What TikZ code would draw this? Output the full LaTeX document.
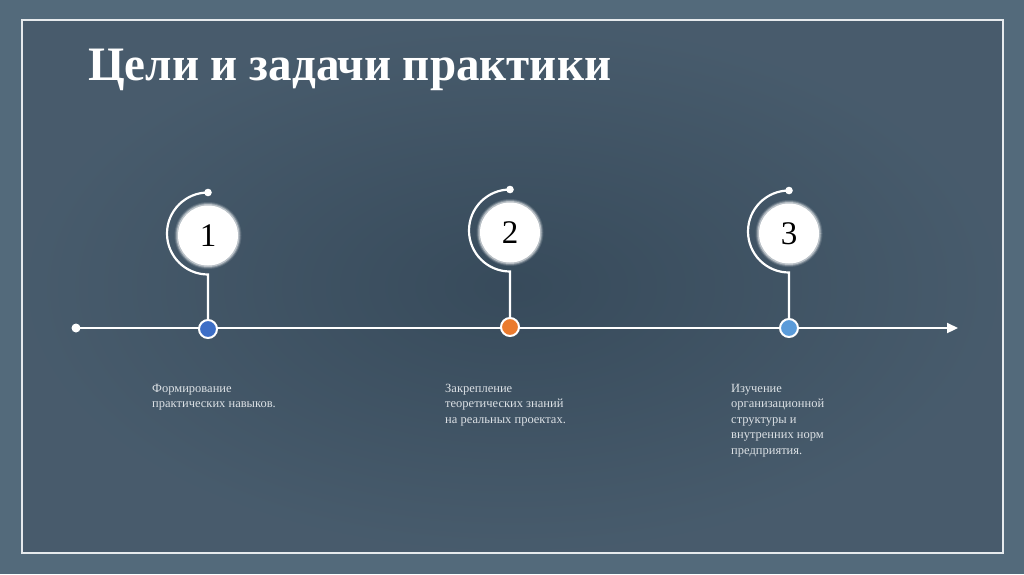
\documentclass[tikz,border=0pt]{standalone}
\usepackage{fontspec}
\setmainfont{Liberation Serif}
\usetikzlibrary{arrows.meta}
\definecolor{outerbg}{HTML}{536A7B}
\definecolor{innerbg}{HTML}{3C5163}
\definecolor{framec}{HTML}{E6EAED}
\definecolor{dotA}{HTML}{3D6EC6}
\definecolor{dotB}{HTML}{EA7B2E}
\definecolor{dotC}{HTML}{5A9BD9}
\definecolor{txt}{HTML}{DCE1E5}
\tikzset{
  numcirc/.style={circle, fill=white, minimum size=60pt, inner sep=0pt, font=\fontsize{33}{33}\selectfont, text=black},
  tdot/.style={circle, draw=white, line width=2pt, minimum size=18pt, inner sep=0pt},
  wline/.style={draw=white, line width=2.2pt},
  label/.style={anchor=north west, align=left, text=txt, font=\fontsize{12.5}{15.5}\selectfont, inner sep=0pt},
}
\begin{document}
\begin{tikzpicture}[x=1pt,y=-1pt]
\useasboundingbox (0,0) rectangle (1024,574);
\fill[outerbg] (0,0) rectangle (1024,574);
\shade[inner color=innerbg!92!black, outer color=innerbg!94!white] (22,20) rectangle (1003,553);
\draw[framec, line width=1.6pt] (22,20) rectangle (1003,553);
\node[anchor=base west, inner sep=0pt, text=white, xscale=0.98, font=\bfseries\fontsize{48}{48}\selectfont] (title) at (88,80) {Цели и задачи практики};
% timeline
\node[circle, fill=white, minimum size=9pt, inner sep=0pt] (start) at (76,328) {};
\coordinate (end) at (958,328);
\draw[wline, -{Triangle[length=11pt,width=10pt]}] (start.center) -- (end);
% stations
\foreach \i/\x/\cy/\dy/\col in {1/208/233.5/329/dotA, 2/510/230.5/327/dotB, 3/789/231.5/328/dotC}{
  \coordinate (top\i) at (\x,\cy-41);
  \coordinate (bot\i) at (\x,\cy+41);
  \fill[white, opacity=0.12] (\x,\cy+2) circle (33.5);
  \fill[white, opacity=0.25] (\x,\cy+2) circle (32.5);
  \fill[white, opacity=0.45] (\x,\cy+2) circle (31.5);
  \node[numcirc] (n\i) at (\x,\cy+2) {\i};
  \node[tdot, fill=\col] (d\i) at (\x,\dy) {};
  \draw[wline] (top\i) arc[start angle=270, end angle=90, radius=41] -- (d\i.north);
  \fill[white] (top\i) circle (3.8);
}
\node[label] (l1) at (152,384) {Формирование\\практических навыков.};
\node[label] (l2) at (445,384) {Закрепление\\теоретических знаний\\на реальных проектах.};
\node[label] (l3) at (731,384) {Изучение\\организационной\\структуры и\\внутренних норм\\предприятия.};
\end{tikzpicture}
\end{document}
